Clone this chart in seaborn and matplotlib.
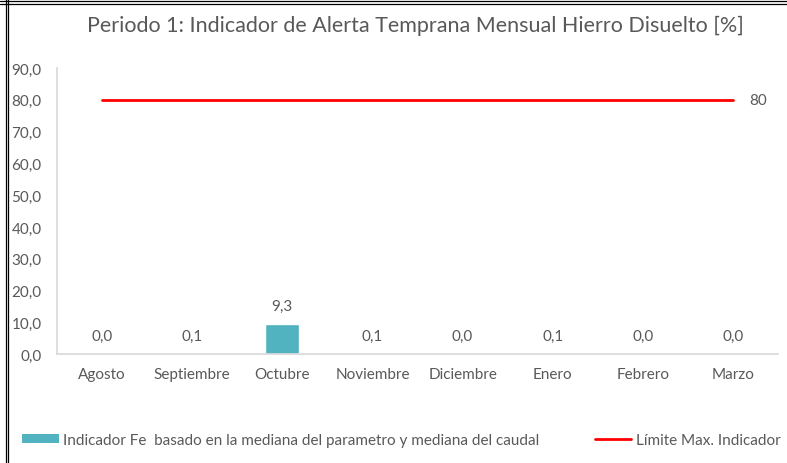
import numpy as np
import pandas as pd
import matplotlib
matplotlib.use('Agg')
import matplotlib.pyplot as plt
from matplotlib.lines import Line2D
from matplotlib.patches import Patch
import seaborn as sns

# chart data
months = ['Agosto', 'Septiembre', 'Octubre', 'Noviembre', 'Diciembre', 'Enero', 'Febrero', 'Marzo']
indicador = [0.0, 0.1, 9.3, 0.1, 0.0, 0.1, 0.0, 0.0]
limite = [80, 80, 80, 80, 80, 80, 80, 80]
yticks = [0, 10, 20, 30, 40, 50, 60, 70, 80, 90]

bar_color = '#50B3BF'
line_color = '#FF0000'
text_color = '#595959'

sns.set_theme(style='white')
plt.rcParams['font.family'] = ['Lato', 'DejaVu Sans']

df = pd.DataFrame({'mes': months, 'indicador': indicador, 'limite': limite})

fig = plt.figure(figsize=(7.87, 4.64), dpi=100)
ax = fig.add_axes([0.0724, 0.2349, 0.9162, 0.6164])

sns.barplot(data=df, x='mes', y='indicador', color=bar_color, width=0.38,
            saturation=1, ax=ax)
sns.lineplot(data=df, x='mes', y='limite', color=line_color, linewidth=2,
             sort=False, ax=ax)

# value labels above the bars
for i, v in enumerate(indicador):
    ax.annotate(f'{v:.1f}'.replace('.', ','), (i, v), xytext=(0, 8),
                textcoords='offset points', ha='center', va='bottom',
                fontsize=11, color=text_color)
ax.annotate(str(limite[-1]), (len(months) - 1, limite[-1]), xytext=(12, 0),
            textcoords='offset points', ha='left', va='center',
            fontsize=11, color=text_color)

ax.set_ylim(0, 90)
ax.set_xlim(-0.5, len(months) - 0.5)
ax.set_yticks(yticks)
ax.set_yticklabels([f'{t:.1f}'.replace('.', ',') for t in yticks])
ax.set_xlabel('')
ax.set_ylabel('')
ax.tick_params(axis='both', length=0, labelsize=11, colors=text_color)
ax.tick_params(axis='y', pad=11)
ax.tick_params(axis='x', pad=9)
for lab in ax.get_yticklabels() + ax.get_xticklabels():
    lab.set_color(text_color)

sns.despine(ax=ax, top=True, right=True)
ax.spines['left'].set_color('#D9D9D9')
ax.spines['bottom'].set_color('#D9D9D9')

fig.text(0.528, 0.945, 'Periodo 1: Indicador de Alerta Temprana Mensual Hierro Disuelto [%]',
         ha='center', va='center', fontsize=15.5, color=text_color)

handles = [Patch(facecolor=bar_color, edgecolor='none'),
           Line2D([0], [0], color=line_color, linewidth=2)]
labels = ['Indicador Fe  basado en la mediana del parametro y mediana del caudal',
          'Límite Max. Indicador']
fig.legend(handles, labels, loc='center', bbox_to_anchor=(0.51, 0.05), ncol=2,
           frameon=False, fontsize=11, handlelength=2.4, handleheight=0.6,
           columnspacing=3.6, handletextpad=0.3, labelcolor=text_color)

# outer frame (double line top and left)
for y in (0.995, 0.989):
    fig.add_artist(Line2D([0, 1], [y, y], color='black', linewidth=0.9))
for x in (0.0076, 0.0102):
    fig.add_artist(Line2D([x, x], [0, 1], color='black', linewidth=0.9))

fig.savefig('out.png', dpi=100)
